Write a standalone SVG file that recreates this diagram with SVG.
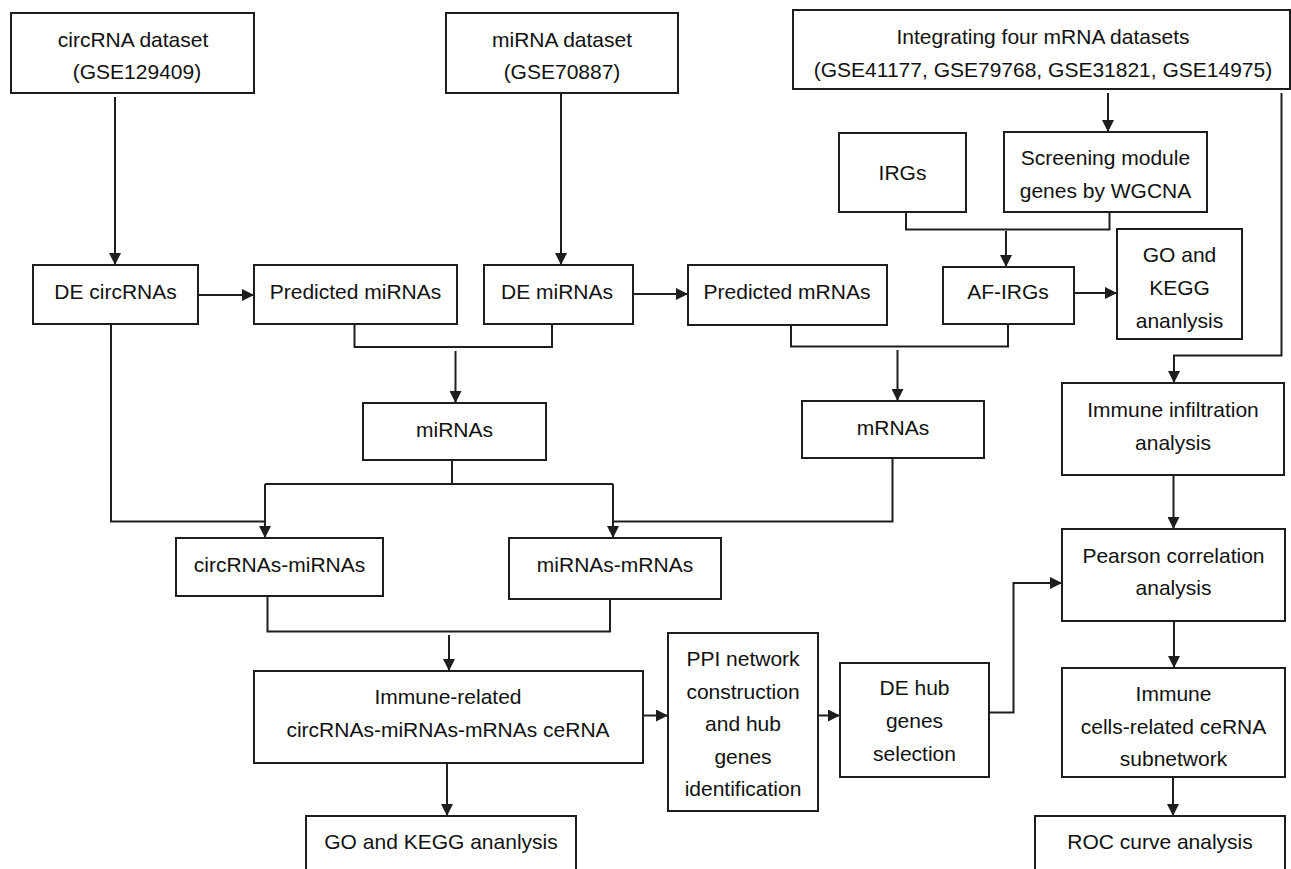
<svg xmlns="http://www.w3.org/2000/svg" width="1291" height="869" viewBox="0 0 1291 869">
<style>
.box{fill:#fff;stroke:#1e1e1e;stroke-width:2}
.ln{fill:none;stroke:#1e1e1e;stroke-width:2}
.ar{marker-end:url(#ah)}
text{font-family:"Liberation Sans",Arial,sans-serif;font-size:21px;fill:#111;text-anchor:middle}
</style>
<defs>
<marker id="ah" markerUnits="userSpaceOnUse" markerWidth="12" markerHeight="12" refX="12" refY="6" orient="auto">
<path d="M0,0 L12,6 L0,12 z" fill="#1e1e1e"/>
</marker>
</defs>
<rect width="1291" height="869" fill="#fff"/>
<g id="connectors">
<path class="ln ar" d="M115,97 V265"/>
<path class="ln ar" d="M561,93 V265"/>
<path class="ln ar" d="M1108,93 V132"/>
<path class="ln" d="M906,212 V229.5 H1109.5 V212"/>
<path class="ln ar" d="M1006,231 V267"/>
<path class="ln ar" d="M198,295 H254"/>
<path class="ln ar" d="M633,294 H688"/>
<path class="ln ar" d="M1074,293 H1117"/>
<path class="ln" d="M354.5,324 V347 H552 V324"/>
<path class="ln ar" d="M455.5,351 V403"/>
<path class="ln" d="M791,325 V346.5 H1008 V324"/>
<path class="ln ar" d="M897.5,350 V401"/>
<path class="ln ar" d="M1281.5,93 V355.5 H1174 V383"/>
<path class="ln ar" d="M1173.5,475 V529"/>
<path class="ln" d="M452,460 V484 M265,484 H613"/>
<path class="ln ar" d="M265,484 V538"/>
<path class="ln ar" d="M613,484 V538"/>
<path class="ln" d="M111,324 V521.5 H265"/>
<path class="ln" d="M892.5,458 V521.5 H613"/>
<path class="ln" d="M267.5,596 V631.5 H610 V599"/>
<path class="ln ar" d="M449,635 V671"/>
<path class="ln ar" d="M643,715.5 H668"/>
<path class="ln ar" d="M818,715.5 H840"/>
<path class="ln ar" d="M447,763 V816"/>
<path class="ln ar" d="M989,712.5 H1013.5 V583 H1062"/>
<path class="ln ar" d="M1174,621 V668"/>
<path class="ln ar" d="M1173,777 V816"/>
</g>
<g id="circrna-dataset"><rect class="box" x="11" y="13" width="243" height="80"/><text x="133" y="47">circRNA dataset</text><text x="137" y="79">(GSE129409)</text></g>
<g id="mirna-dataset"><rect class="box" x="446" y="13" width="232" height="80"/><text x="562" y="47">miRNA dataset</text><text x="562" y="79">(GSE70887)</text></g>
<g id="mrna-datasets"><rect class="box" x="793" y="10" width="497" height="79"/><text x="1043" y="43.5">Integrating four mRNA datasets</text><text x="1043" y="76.5">(GSE41177, GSE79768, GSE31821, GSE14975)</text></g>
<g id="irgs"><rect class="box" x="839" y="133" width="127" height="79"/><text x="902.5" y="180">IRGs</text></g>
<g id="wgcna"><rect class="box" x="1004" y="132" width="203" height="80"/><text x="1105.5" y="165">Screening module</text><text x="1105.5" y="197.5">genes by WGCNA</text></g>
<g id="de-circrnas"><rect class="box" x="33" y="265" width="165" height="59"/><text x="115.5" y="298.5">DE circRNAs</text></g>
<g id="predicted-mirnas"><rect class="box" x="254" y="265" width="203" height="59"/><text x="355.5" y="298.5">Predicted miRNAs</text></g>
<g id="de-mirnas"><rect class="box" x="484" y="265" width="149" height="59"/><text x="557" y="298.5">DE miRNAs</text></g>
<g id="predicted-mrnas"><rect class="box" x="688" y="265" width="199" height="60"/><text x="787" y="298.5">Predicted mRNAs</text></g>
<g id="af-irgs"><rect class="box" x="943" y="267" width="131" height="57"/><text x="1008" y="298.5">AF-IRGs</text></g>
<g id="go-kegg-1"><rect class="box" x="1117" y="229" width="125" height="110"/><text x="1179.5" y="262">GO and</text><text x="1179.5" y="295">KEGG</text><text x="1179.5" y="328">ananlysis</text></g>
<g id="mirnas"><rect class="box" x="363" y="403" width="183" height="57"/><text x="454.5" y="436.5">miRNAs</text></g>
<g id="mrnas"><rect class="box" x="802" y="401" width="182" height="57"/><text x="893" y="434.5">mRNAs</text></g>
<g id="immune-infiltration"><rect class="box" x="1062" y="383" width="222" height="92"/><text x="1173" y="417">Immune infiltration</text><text x="1173" y="449.5">analysis</text></g>
<g id="pearson"><rect class="box" x="1062" y="529" width="223" height="92"/><text x="1173.5" y="562.5">Pearson correlation</text><text x="1173.5" y="595">analysis</text></g>
<g id="circ-mirnas"><rect class="box" x="176" y="538" width="207" height="58"/><text x="279.5" y="571.5">circRNAs-miRNAs</text></g>
<g id="mirnas-mrnas"><rect class="box" x="509" y="538" width="212" height="61"/><text x="615" y="571.5">miRNAs-mRNAs</text></g>
<g id="cerna"><rect class="box" x="254" y="671" width="389" height="92"/><text x="448" y="704">Immune-related</text><text x="448" y="736.5">circRNAs-miRNAs-mRNAs ceRNA</text></g>
<g id="ppi"><rect class="box" x="668" y="633" width="150" height="178"/><text x="743" y="666">PPI network</text><text x="743" y="698.5">construction</text><text x="743" y="731">and hub</text><text x="743" y="763.5">genes</text><text x="743" y="796">identification</text></g>
<g id="de-hub"><rect class="box" x="840" y="663" width="149" height="114"/><text x="914.5" y="695">DE hub</text><text x="914.5" y="728">genes</text><text x="914.5" y="760.5">selection</text></g>
<g id="immune-cells"><rect class="box" x="1062" y="668" width="223" height="109"/><text x="1173.5" y="701">Immune</text><text x="1173.5" y="734">cells-related ceRNA</text><text x="1173.5" y="766">subnetwork</text></g>
<g id="go-kegg-2"><rect class="box" x="306" y="816" width="270" height="70"/><text x="441" y="849">GO and KEGG ananlysis</text></g>
<g id="roc"><rect class="box" x="1035" y="816" width="250" height="70"/><text x="1160" y="849">ROC curve analysis</text></g>
</svg>
